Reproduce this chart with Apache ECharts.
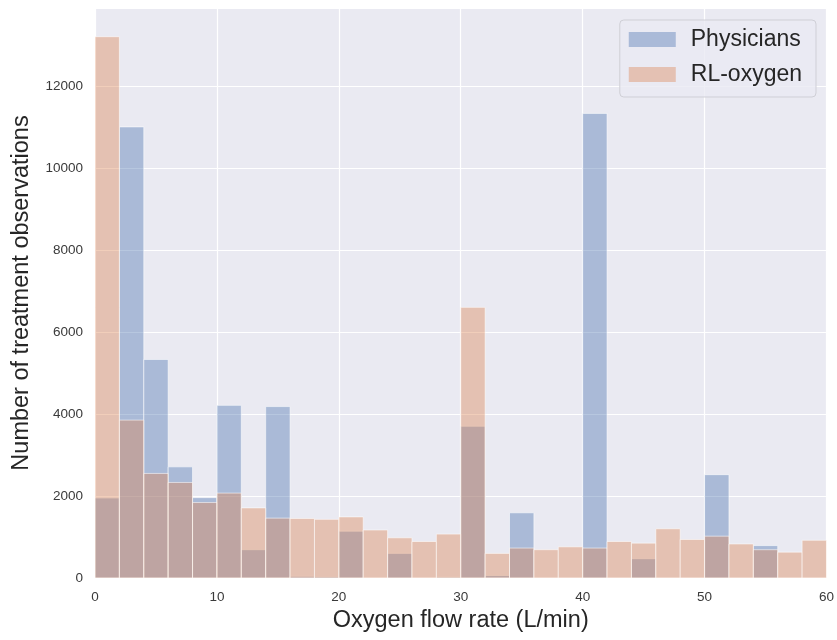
<!DOCTYPE html>
<html>
<head>
<meta charset="utf-8">
<script src="https://cdn.jsdelivr.net/npm/echarts@6/dist/echarts.min.js"></script>
<style>
  html, body { margin: 0; padding: 0; background: #fff; }
  #chart { width: 837px; height: 640px; }
</style>
</head>
<body>
<div id="chart"></div>
<script>
// bin edges (L/min), width 2
var binStarts = [0, 2, 4, 6, 8, 10, 12, 14, 16, 18, 20, 22, 24, 26, 28,
  30, 32, 34, 36, 38, 40, 42, 44, 46, 48, 50, 52, 54, 56, 58]
var binEnds = [2, 4, 6, 8, 10, 12, 14, 16, 18, 20, 22, 24, 26, 28, 30,
  32, 34, 36, 38, 40, 42, 44, 46, 48, 50, 52, 54, 56, 58, 60]
var physicians = [1950, 11000, 5330, 2710, 1960, 4210, 690, 4180, 40, 30,
  1140, 0, 600, 0, 20, 3700, 60, 1590, 0, 0,
  11330, 0, 470, 0, 0, 2520, 0, 790, 0, 0]
var rlOxygen = [13200, 3850, 2550, 2330, 1840, 2070, 1710, 1460, 1450, 1430,
  1490, 1170, 980, 890, 1070, 6600, 600, 730, 690, 760,
  730, 890, 850, 1200, 940, 1020, 830, 690, 630, 920]
var yTicks = [0, 2000, 4000, 6000, 8000, 10000, 12000]
var xTicks = [0, 10, 20, 30, 40, 50, 60]

var fontFamily = 'Liberation Sans, Arial, sans-serif'
var textColor = '#262626'
var tickColor = '#3a3a3a'

function toRows (values) {
  return values.map(function (v, i) { return [binStarts[i], binEnds[i], v] })
}

function renderBin (params, api) {
  var lo = api.coord([api.value(0), 0])
  var hi = api.coord([api.value(1), api.value(2)])
  return {
    type: 'rect',
    shape: { x: lo[0], y: hi[1], width: hi[0] - lo[0], height: lo[1] - hi[1] },
    style: api.style({ stroke: 'rgba(255,255,255,0.55)', lineWidth: 1 })
  }
}

var chart = echarts.init(document.getElementById('chart'))
var option = {
  backgroundColor: '#ffffff',
  textStyle: { fontFamily: fontFamily },
  grid: {
    left: 95,
    right: 10,
    top: 8,
    bottom: 62,
    show: true,
    backgroundColor: '#EAEAF2',
    borderWidth: 0
  },
  legend: {
    orient: 'vertical',
    right: 21,
    top: 20,
    padding: [8, 14, 11, 9],
    itemWidth: 47,
    itemHeight: 15,
    itemGap: 12,
    icon: 'rect',
    backgroundColor: 'rgba(234,234,242,0.8)',
    borderColor: '#cfcfd6',
    borderWidth: 1,
    borderRadius: 4,
    textStyle: { fontSize: 23, color: textColor, fontFamily: fontFamily, padding: [0, 0, 0, 10] },
    data: ['Physicians', 'RL-oxygen']
  },
  xAxis: {
    type: 'value',
    min: xTicks[0],
    max: xTicks[xTicks.length - 1],
    interval: 10,
    name: 'Oxygen flow rate (L/min)',
    nameLocation: 'middle',
    nameGap: 29,
    nameTextStyle: { fontSize: 23.5, color: textColor, fontFamily: fontFamily },
    axisLine: { show: false },
    axisTick: { show: false },
    axisLabel: { fontSize: 13.5, color: tickColor, margin: 12 },
    splitLine: { show: true, lineStyle: { color: '#ffffff', width: 1.2 } }
  },
  yAxis: {
    type: 'value',
    min: yTicks[0],
    max: 13900,
    interval: 2000,
    name: 'Number of treatment observations',
    nameLocation: 'middle',
    nameGap: 61,
    nameTextStyle: { fontSize: 23.5, color: textColor, fontFamily: fontFamily },
    axisLine: { show: false },
    axisTick: { show: false },
    axisLabel: {
      fontSize: 13.5,
      color: tickColor,
      margin: 12,
      showMaxLabel: false,
      formatter: function (v) { return yTicks.indexOf(v) >= 0 ? String(v) : '' }
    },
    splitLine: { show: true, lineStyle: { color: '#ffffff', width: 1.2 } }
  },
  series: [
    {
      name: 'Physicians',
      type: 'custom',
      renderItem: renderBin,
      itemStyle: { color: 'rgba(76,114,176,0.4)' },
      encode: { x: [0, 1], y: 2 },
      data: toRows(physicians)
    },
    {
      name: 'RL-oxygen',
      type: 'custom',
      renderItem: renderBin,
      itemStyle: { color: 'rgba(221,132,82,0.4)' },
      encode: { x: [0, 1], y: 2 },
      data: toRows(rlOxygen)
    }
  ]
}
chart.setOption(option)
</script>
</body>
</html>
